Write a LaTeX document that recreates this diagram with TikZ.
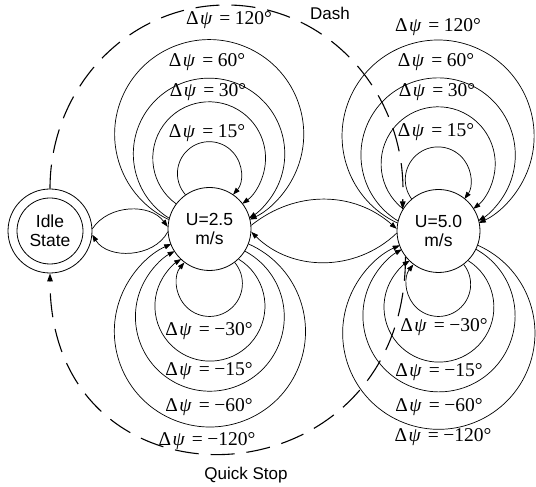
\documentclass[tikz,border=0pt]{standalone}
\usepackage{fontspec}
\setmainfont{Liberation Sans}
\newfontfamily\tnr{Liberation Serif}
\usetikzlibrary{arrows.meta}
\newcommand\dpsi[1]{Δ\kern1.5pt\textit{ψ}\kern7pt=\kern4.5pt#1°}
% upper self loop: node, distance centre->loop top, height of chord above centre
\newcommand\myuloop[3]{%
  \pgfmathsetmacro\lh{sqrt(41.5*41.5-(#3)*(#3))}%
  \pgfmathsetmacro\lq{#2-#3}%
  \pgfmathsetmacro\lR{(\lh*\lh/\lq+\lq)/2}%
  \pgfmathsetmacro\lp{atan2(\lq-\lR,\lh)}%
  \pgfmathtruncatemacro\la{round(180-atan2(#3,\lh))}%
  \draw[conn] (#1.\la) arc[start angle={180+\lp}, end angle={-\lp}, radius=\lR pt];%
}
% lower self loop
\newcommand\mydloop[3]{%
  \pgfmathsetmacro\lh{sqrt(41.5*41.5-(#3)*(#3))}%
  \pgfmathsetmacro\lq{#2-#3}%
  \pgfmathsetmacro\lR{(\lh*\lh/\lq+\lq)/2}%
  \pgfmathsetmacro\lp{atan2(\lq-\lR,\lh)}%
  \pgfmathtruncatemacro\la{round(360-atan2(#3,\lh))}%
  \draw[conn] (#1.\la) arc[start angle={\lp}, end angle={-180-\lp}, radius=\lR pt];%
}
\begin{document}
\begin{tikzpicture}[x=1pt,y=1pt,
  state/.style={circle, draw, line width=0.8pt, inner sep=0pt, align=center,
    font=\fontsize{17.5}{19}\selectfont},
  lab/.style={font=\tnr\fontsize{19.5}{21}\selectfont, inner sep=0pt, anchor=base},
  captext/.style={font=\fontsize{17}{20}\selectfont, inner sep=0pt, anchor=base},
  conn/.style={line width=0.7pt, -{Triangle[length=7pt,width=5pt]}},
  dashline/.style={line width=1.1pt, dash pattern=on 24pt off 12pt,
    -{Triangle[length=8pt,width=5.5pt]}}]
\useasboundingbox (0,0) rectangle (536,487);

% states
\node[state, minimum size=84pt] (idle) at (50,256) {};
\node[state, minimum size=66pt] (idlein) at (idle) {Idle\\State};
\node[state, minimum size=83pt] (u25) at (209.5,258) {U=2.5\\m/s};
\node[state, minimum size=83pt] (u50) at (438.5,256) {U=5.0\\m/s};

% self loops
\foreach \dt/\di in {87/34, 127/25, 151/11, 189/9} {\myuloop{u25}{\dt}{\di}}
\foreach \dt/\di in {87/33, 132/30, 162/22, 198/15} {\mydloop{u25}{\dt}{\di}}
\foreach \dt/\di in {84/32, 124/22, 153/10, 191/8} {\myuloop{u50}{\dt}{\di}}
\foreach \dt/\di in {85/33, 131/29.5, 161/18.5, 198/14} {\mydloop{u50}{\dt}{\di}}

% transitions between states
\draw[conn] (idle.3) to[bend left=55] (u25.177);
\draw[conn] (u25.184) to[bend left=60] (idle.-5);
\draw[conn] (u25.5) to[bend left=40] (u50.177);
\draw[conn] (u50.183) to[bend left=44] (u25.-4);

% dashed transitions
\coordinate (dtop) at (226.5,482);
\coordinate (dright) at (403,297);
\draw[dashline] (idle.90) .. controls +(0,102) and +(-97.5,0) .. (dtop)
  .. controls +(97.5,0) and +(0,102) .. (dright) -- (u50.149);
\draw[dashline] (u50.218) .. controls +(0,-251) and +(0,-251) .. (idle.270);

% labels
\node[lab] (a15)  at (207,349) {\dpsi{15}};
\node[lab] (a30)  at (208,390) {\dpsi{30}};
\node[lab] (a60)  at (207,420) {\dpsi{60}};
\node[lab] (a120) at (229,462) {\dpsi{120}};
\node[lab] (am30)  at (209,151) {\dpsi{−30}};
\node[lab] (am15)  at (209,111) {\dpsi{−15}};
\node[lab] (am60)  at (209,75)  {\dpsi{−60}};
\node[lab] (am120) at (207,41)  {\dpsi{−120}};
\node[lab] (b120) at (438,455) {\dpsi{120}};
\node[lab] (b60)  at (436,420) {\dpsi{60}};
\node[lab] (b30)  at (437,390) {\dpsi{30}};
\node[lab] (b15)  at (436,350) {\dpsi{15}};
\node[lab] (bm30)  at (444,155) {\dpsi{−30}};
\node[lab] (bm15)  at (439,110) {\dpsi{−15}};
\node[lab] (bm60)  at (439,75)  {\dpsi{−60}};
\node[lab] (bm120) at (443,45)  {\dpsi{−120}};
\node[captext] (dash) at (330,467) {Dash};
\node[captext] (qstop) at (246,7) {Quick Stop};
\end{tikzpicture}
\end{document}
